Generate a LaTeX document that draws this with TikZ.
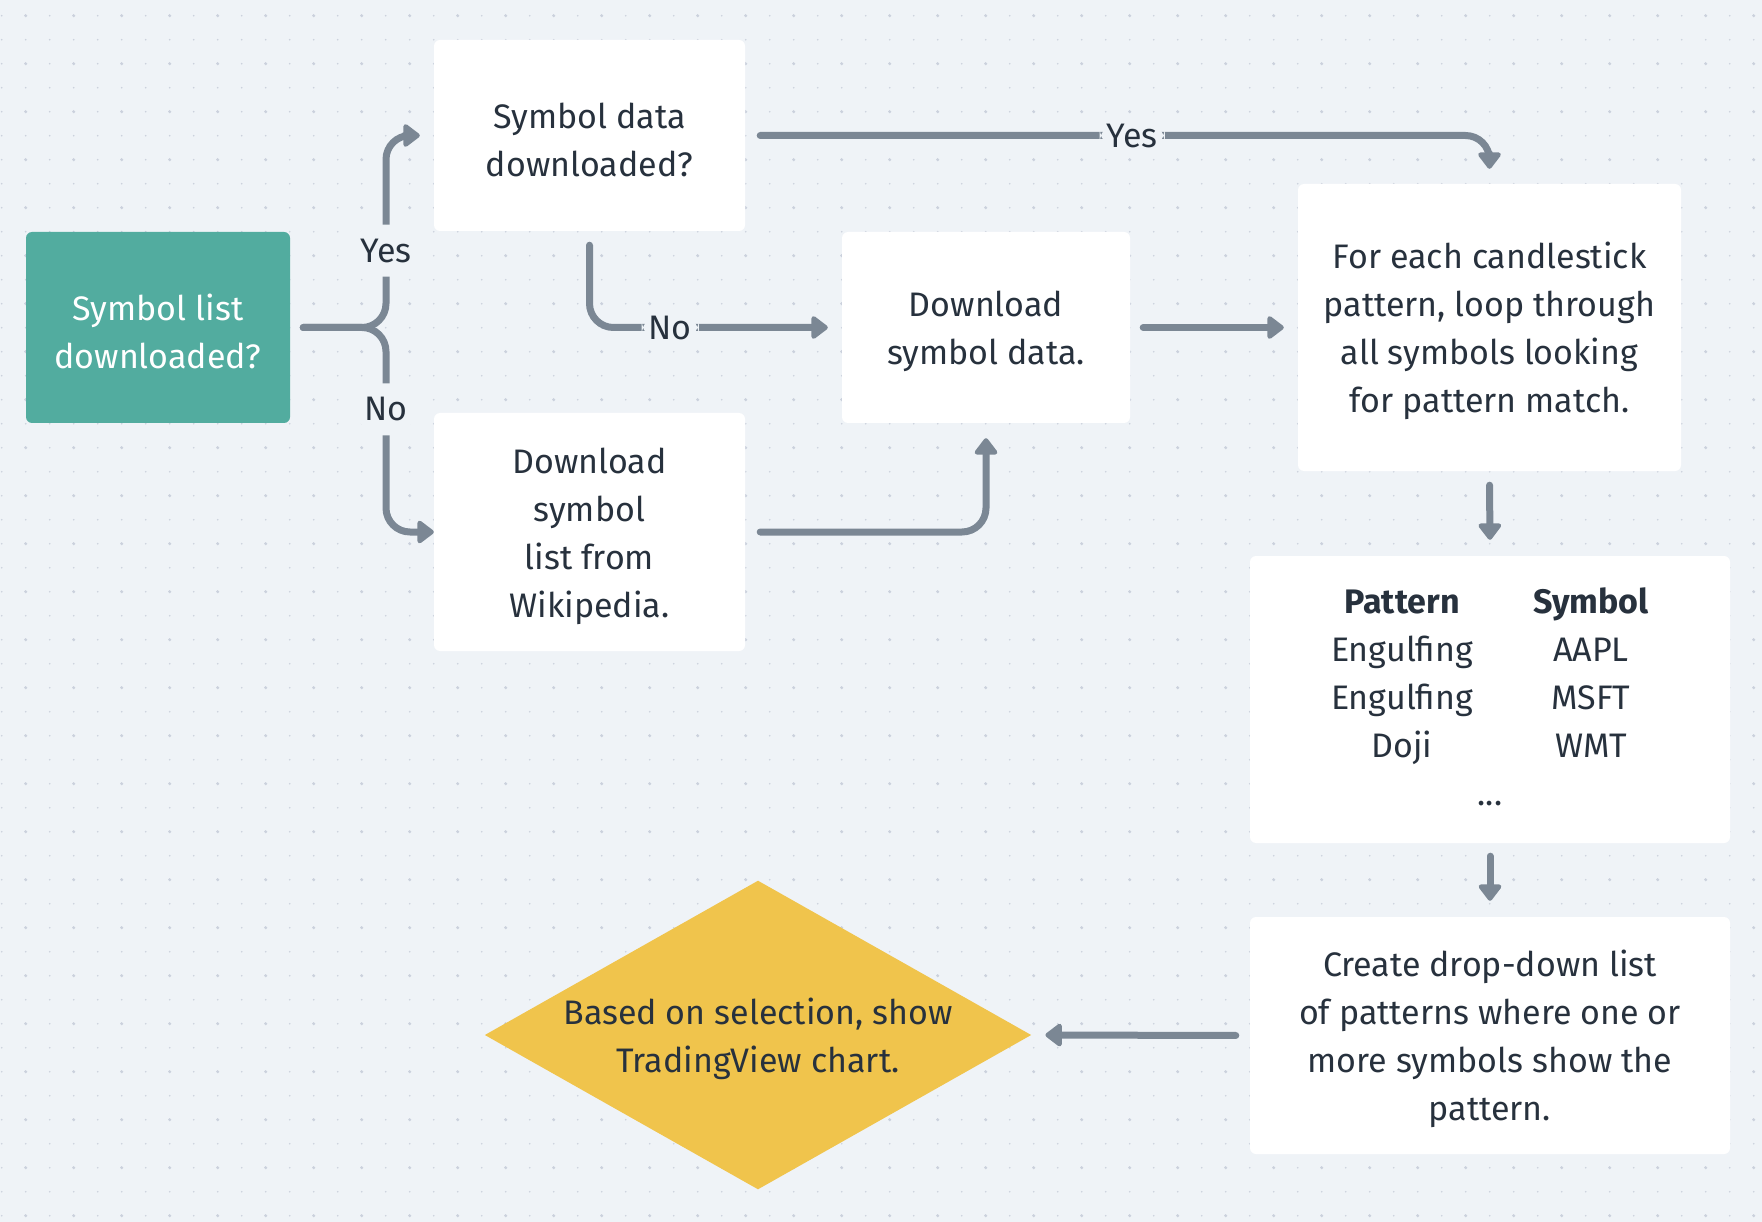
\documentclass[tikz,border=0pt]{standalone}
\usepackage{fontspec}
\setmainfont{Fira Sans}
\usetikzlibrary{arrows.meta,shapes.geometric}
\definecolor{FBack}{HTML}{EFF3F7}
\definecolor{FDot}{HTML}{CBD1DD}
\definecolor{FTeal}{HTML}{52AC9F}
\definecolor{FAmber}{HTML}{F0C44C}
\definecolor{FSlate}{HTML}{7B8794}
\definecolor{FInk}{HTML}{27313D}
\newcommand{\boxtext}[1]{\strut#1}

\begin{document}
\begin{tikzpicture}[
  x=1pt,y=-1pt,
  every node/.style={font=\fontsize{34}{48}\selectfont,text=FInk},
  stepbox/.style={fill=white,rounded corners=6pt,align=center,inner sep=0pt},
  start/.style={stepbox,fill=FTeal,text=white},
  decision/.style={diamond,fill=FAmber,aspect=1.77,inner sep=0pt,align=center,
    minimum width=546pt,minimum height=308pt},
  lbl/.style={fill=FBack,inner xsep=7pt,inner ysep=4pt},
  vlbl/.style={lbl,minimum height=52pt},
  arr/.style={-{Triangle[length=18pt,width=26pt,round]},line width=7pt,
    line cap=round,color=FSlate,rounded corners=24pt}
]
  % canvas
  \useasboundingbox (0,0) rectangle (1762,1222);
  \fill[FBack] (0,0) rectangle (1762,1222);
  \foreach \j in {0,...,50}
    {\fill[FDot] \foreach \i in {0,...,73}{(1.7+24*\i,15.7+24*\j) circle (0.9pt)};}
  \foreach \j in {0,...,25}
    {\fill[FDot] \foreach \i in {0,...,36}{(25.7+48*\i,15.7+48*\j) circle (1.7pt)};}

  % steps
  \node[start,minimum width=264pt,minimum height=191pt] (symlist) at (158,327.5) {\boxtext{Symbol list\\downloaded?}};
  \node[stepbox,minimum width=311pt,minimum height=191pt] (symdata) at (589.5,135.5) {\boxtext{Symbol data\\downloaded?}};
  \node[stepbox,minimum width=311pt,minimum height=238pt] (wiki) at (589.5,532) {\boxtext{Download\\symbol\\list from\\Wikipedia.}};
  \node[stepbox,minimum width=288pt,minimum height=191pt] (getdata) at (986,327.5) {\boxtext{Download\\symbol data.}};
  \node[stepbox,minimum width=383pt,minimum height=287pt] (scan) at (1489.5,327.5) {\boxtext{For each candlestick\\pattern, loop through\\all symbols looking\\for pattern match.}};
  \node[stepbox,minimum width=480pt,minimum height=287pt] (matches) at (1490,699.5) {%
    \begin{tabular}{c@{\hspace{60pt}}c}
      \textbf{Pattern} & \textbf{Symbol}\\
      Engulfing & AAPL\\
      Engulfing & MSFT\\
      Doji & WMT\\
      \multicolumn{2}{c}{...}
    \end{tabular}};
  \node[stepbox,minimum width=480pt,minimum height=237pt] (dropdown) at (1490,1035.5) {\boxtext{Create drop-down list\\of patterns where one or\\more symbols show the\\pattern.}};
  \node[decision] (chart) at (758,1035) {\boxtext{Based on selection, show\\TradingView chart.}};

  % connectors
  \coordinate (fork) at (386,327.5);
  \draw[arr,shorten <=13pt,shorten >=14pt] (symlist.east) -| node[vlbl,pos=0.7] {Yes} (fork |- symdata.west) -- (symdata.west);
  \draw[arr,shorten <=13pt] (symlist.east) -| node[vlbl,pos=0.7] {No} (fork |- wiki.west) -- (wiki.west);
  \draw[arr,shorten <=14pt,shorten >=14pt] (symdata.south) |- node[lbl,pos=0.66] {No} (getdata.west);
  \draw[arr,shorten <=15pt,shorten >=15pt] (symdata.east) -| node[lbl,pos=0.26] {Yes} (scan.north);
  \draw[arr,shorten <=15pt,shorten >=15pt] (wiki.east) -| (getdata.south);
  \draw[arr,shorten <=13pt,shorten >=14pt] (getdata.east) -- (scan.west);
  \draw[arr,shorten <=14pt,shorten >=16pt] (scan.south) -- (matches.north);
  \draw[arr,shorten <=13pt,shorten >=16pt] (matches.south) -- (dropdown.north);
  \draw[arr,shorten <=14pt,shorten >=14pt] (dropdown.west) -- (chart.east);
\end{tikzpicture}
\end{document}
